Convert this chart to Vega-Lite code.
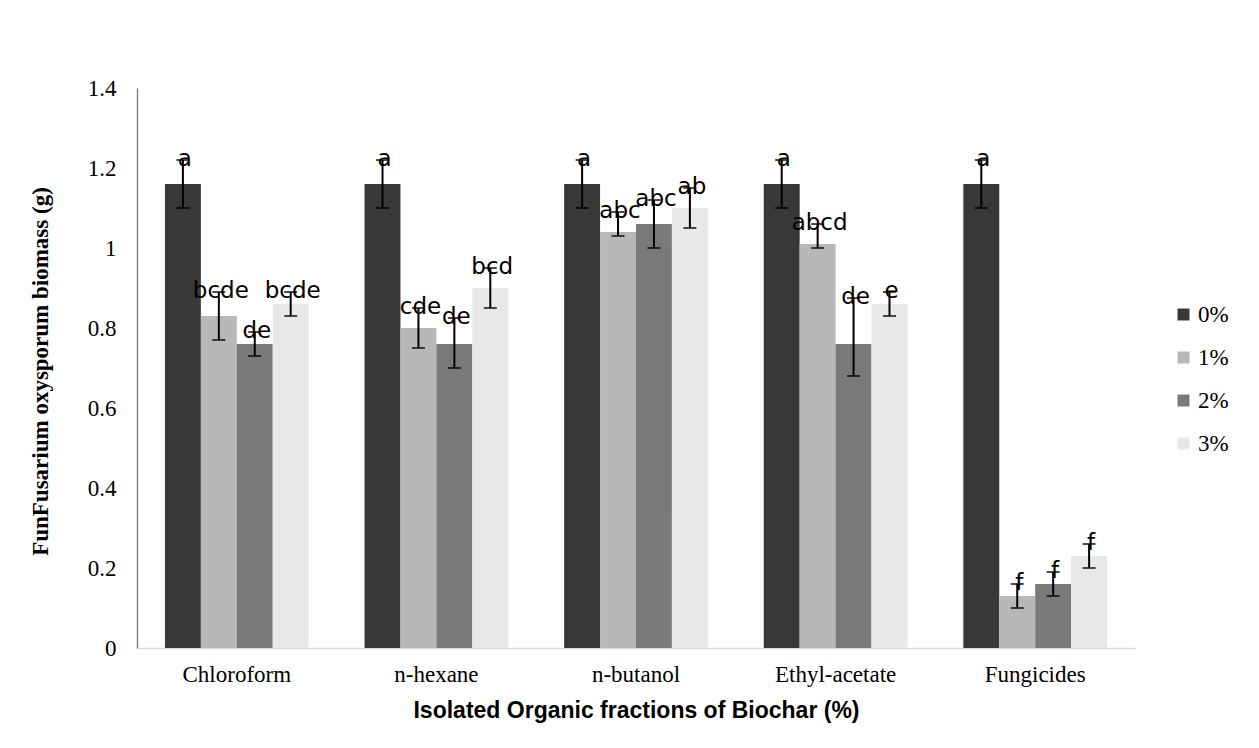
{
  "$schema": "https://vega.github.io/schema/vega-lite/v6.json",
  "autosize": {"type": "none"},
  "width": 998,
  "height": 560,
  "padding": {"left": 137, "top": 88, "right": 124, "bottom": 100},
  "background": "white",
  "config": {
    "view": {"stroke": null},
    "axis": {"labelColor": "black", "titleColor": "black", "grid": false, "ticks": false}
  },
  "data": {
    "values": [
      {"fraction": "Chloroform", "dose": "0%", "mean": 1.16, "lo": 1.10, "hi": 1.22, "letter": "a"},
      {"fraction": "Chloroform", "dose": "1%", "mean": 0.83, "lo": 0.77, "hi": 0.89, "letter": "bcde"},
      {"fraction": "Chloroform", "dose": "2%", "mean": 0.76, "lo": 0.73, "hi": 0.79, "letter": "de"},
      {"fraction": "Chloroform", "dose": "3%", "mean": 0.86, "lo": 0.83, "hi": 0.89, "letter": "bcde"},
      {"fraction": "n-hexane", "dose": "0%", "mean": 1.16, "lo": 1.10, "hi": 1.22, "letter": "a"},
      {"fraction": "n-hexane", "dose": "1%", "mean": 0.80, "lo": 0.75, "hi": 0.85, "letter": "cde"},
      {"fraction": "n-hexane", "dose": "2%", "mean": 0.76, "lo": 0.70, "hi": 0.825, "letter": "de"},
      {"fraction": "n-hexane", "dose": "3%", "mean": 0.90, "lo": 0.85, "hi": 0.95, "letter": "bcd"},
      {"fraction": "n-butanol", "dose": "0%", "mean": 1.16, "lo": 1.10, "hi": 1.22, "letter": "a"},
      {"fraction": "n-butanol", "dose": "1%", "mean": 1.04, "lo": 1.03, "hi": 1.09, "letter": "abc"},
      {"fraction": "n-butanol", "dose": "2%", "mean": 1.06, "lo": 1.00, "hi": 1.12, "letter": "abc"},
      {"fraction": "n-butanol", "dose": "3%", "mean": 1.10, "lo": 1.05, "hi": 1.15, "letter": "ab"},
      {"fraction": "Ethyl-acetate", "dose": "0%", "mean": 1.16, "lo": 1.10, "hi": 1.22, "letter": "a"},
      {"fraction": "Ethyl-acetate", "dose": "1%", "mean": 1.01, "lo": 1.00, "hi": 1.06, "letter": "abcd"},
      {"fraction": "Ethyl-acetate", "dose": "2%", "mean": 0.76, "lo": 0.68, "hi": 0.875, "letter": "de"},
      {"fraction": "Ethyl-acetate", "dose": "3%", "mean": 0.86, "lo": 0.83, "hi": 0.89, "letter": "e"},
      {"fraction": "Fungicides", "dose": "0%", "mean": 1.16, "lo": 1.10, "hi": 1.22, "letter": "a"},
      {"fraction": "Fungicides", "dose": "1%", "mean": 0.13, "lo": 0.10, "hi": 0.16, "letter": "f"},
      {"fraction": "Fungicides", "dose": "2%", "mean": 0.16, "lo": 0.13, "hi": 0.19, "letter": "f"},
      {"fraction": "Fungicides", "dose": "3%", "mean": 0.23, "lo": 0.20, "hi": 0.26, "letter": "f"}
    ]
  },
  "encoding": {
    "x": {
      "field": "fraction", "type": "nominal",
      "sort": ["Chloroform", "n-hexane", "n-butanol", "Ethyl-acetate", "Fungicides"],
      "scale": {"paddingInner": 0.28, "paddingOuter": 0.14},
      "axis": {
        "title": "Isolated Organic fractions of Biochar (%)",
        "labelAngle": 0,
        "labelFont": "Liberation Serif", "labelFontSize": 23, "labelPadding": 15,
        "domainColor": "#d9d9d9", "domainWidth": 1.5,
        "titleFont": "Liberation Sans", "titleFontSize": 23, "titleFontWeight": "bold",
        "titleY": 62, "titleBaseline": "middle"
      }
    },
    "xOffset": {
      "field": "dose", "type": "nominal",
      "sort": ["0%", "1%", "2%", "3%"],
      "scale": {"paddingInner": 0, "paddingOuter": 0}
    }
  },
  "layer": [
    {
      "mark": {"type": "bar"},
      "encoding": {
        "y": {
          "field": "mean", "type": "quantitative",
          "scale": {"domain": [0, 1.4], "nice": false},
          "axis": {
            "title": "FunFusarium oxysporum biomass (g)",
            "values": [0, 0.2, 0.4, 0.6, 0.8, 1, 1.2, 1.4],
            "format": "~g",
            "labelFont": "Liberation Serif", "labelFontSize": 23, "labelPadding": 21,
            "domainColor": "#868686", "domainWidth": 1.5,
            "titleFont": "Liberation Serif", "titleFontSize": 23, "titleFontWeight": "bold",
            "titleX": -97, "titleY": 283, "titleAngle": 270, "titleAlign": "center", "titleBaseline": "middle"
          }
        },
        "color": {
          "field": "dose", "type": "nominal",
          "sort": ["0%", "1%", "2%", "3%"],
          "scale": {"domain": ["0%", "1%", "2%", "3%"], "range": ["#383838", "#b8b8b8", "#7a7a7a", "#e8e8e8"]},
          "legend": {
            "title": null, "orient": "none", "legendX": 1035, "legendY": 215,
            "symbolType": "square", "symbolSize": 144, "symbolStrokeWidth": 0,
            "labelFont": "Liberation Serif", "labelFontSize": 23, "labelColor": "black",
            "labelOffset": 3, "rowPadding": 19, "padding": 0
          }
        }
      }
    },
    {
      "mark": {"type": "text", "font": "DejaVu Sans", "fontSize": 23, "baseline": "middle", "align": "center", "dy": -1, "dx": 2, "color": "black"},
      "encoding": {
        "y": {"field": "hi", "type": "quantitative"},
        "text": {"field": "letter"}
      }
    },
    {
      "mark": {"type": "rule", "color": "black", "strokeWidth": 2},
      "encoding": {
        "y": {"field": "lo", "type": "quantitative"},
        "y2": {"field": "hi"}
      }
    },
    {
      "mark": {"type": "tick", "color": "black", "thickness": 2, "size": 13, "orient": "horizontal"},
      "encoding": {
        "y": {"field": "hi", "type": "quantitative"}
      }
    },
    {
      "mark": {"type": "tick", "color": "black", "thickness": 2, "size": 13, "orient": "horizontal"},
      "encoding": {
        "y": {"field": "lo", "type": "quantitative"}
      }
    }
  ]
}
